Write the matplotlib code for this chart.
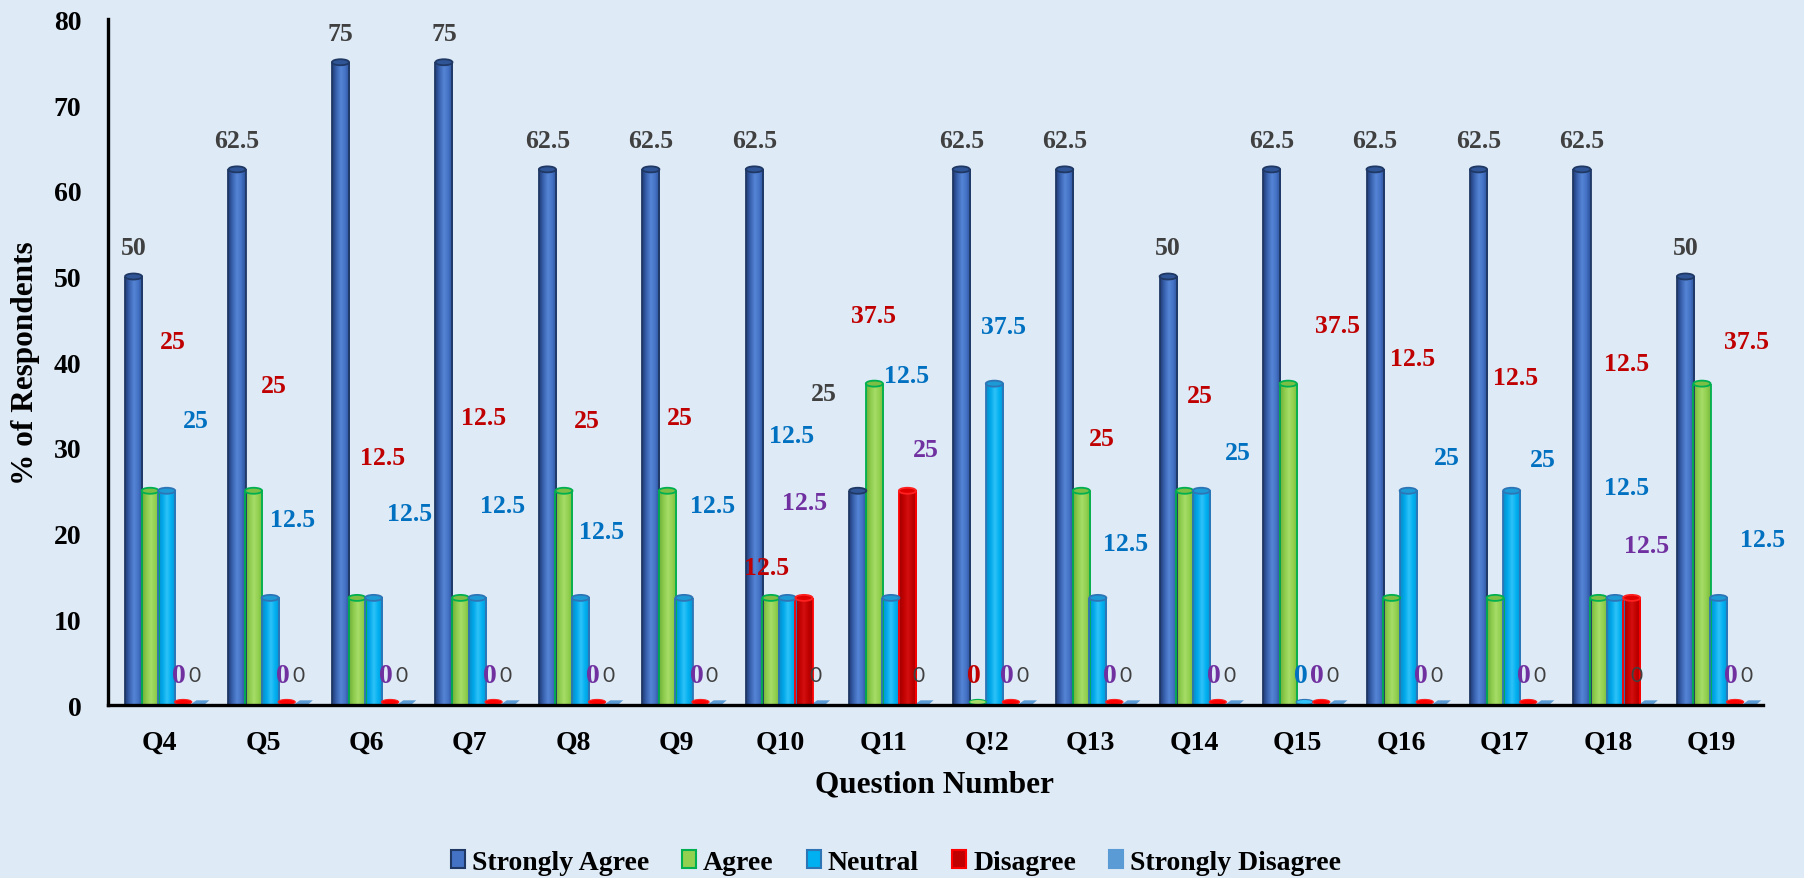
import matplotlib
matplotlib.use("Agg")
import matplotlib.pyplot as plt
import numpy as np
from matplotlib.patches import Ellipse, Polygon, Rectangle
from matplotlib.colors import LinearSegmentedColormap

# ---------------- data ----------------
questions = ["Q4", "Q5", "Q6", "Q7", "Q8", "Q9", "Q10", "Q11", "Q!2", "Q13",
             "Q14", "Q15", "Q16", "Q17", "Q18", "Q19"]
strongly_agree = [50, 62.5, 75, 75, 62.5, 62.5, 62.5, 25, 62.5, 62.5, 50, 62.5, 62.5, 62.5, 62.5, 50]
agree = [25, 25, 12.5, 12.5, 25, 25, 12.5, 37.5, 0, 25, 25, 37.5, 12.5, 12.5, 12.5, 37.5]
neutral = [25, 12.5, 12.5, 12.5, 12.5, 12.5, 12.5, 12.5, 37.5, 12.5, 25, 0, 25, 25, 12.5, 12.5]
disagree = [0, 0, 0, 0, 0, 0, 12.5, 25, 0, 0, 0, 0, 0, 0, 12.5, 0]
strongly_disagree = [0, 0, 0, 0, 0, 0, 0, 0, 0, 0, 0, 0, 0, 0, 0, 0]
series_names = ["Strongly Agree", "Agree", "Neutral", "Disagree", "Strongly Disagree"]
y_ticks = [0, 10, 20, 30, 40, 50, 60, 70, 80]

# ---------------- label placement (manually dragged labels in the original) ----------------
# (offset from category centre, label centre height)
agree_label_pos = [(0.13, 42.4), (0.11, 37.3), (0.16, 28.9), (0.13, 33.5), (0.13, 33.2), (0.03, 33.6),
                   (-0.13, 16.1), (-0.10, 45.4), (-0.13, 3.5), (0.11, 31.1), (0.06, 36.1), (0.39, 44.3),
                   (0.11, 40.4), (0.11, 38.2), (0.18, 39.8), (0.34, 42.4)]
neutral_label_pos = [(0.35, 33.2), (0.29, 21.7), (0.42, 22.3), (0.32, 23.3), (0.27, 20.3), (0.35, 23.3),
                     (0.11, 31.4), (0.22, 38.4), (0.16, 44.2), (0.34, 18.9), (0.42, 29.5), (0.03, 3.5),
                     (0.44, 28.9), (0.37, 28.6), (0.18, 25.4), (0.50, 19.3)]
disagree_label_pos = [(0.19, 3.5)] * 6 + [(0.24, 23.6), (0.41, 29.8)] + [(0.19, 3.5)] * 6 + [(0.37, 18.6), (0.19, 3.5)]
sd_label_pos = [(0.34, 3.5)] * 14 + [(0.28, 3.5), (0.34, 3.5)]
sa_label_special = {7: (-0.58, 36.4)}

# ---------------- style ----------------
BG = "#DEEAF6"
SERIF = "Liberation Serif"
bar_offsets = [-0.25, -0.09, 0.07, 0.23, 0.39]
bar_w = 0.165
ell_h = 0.7

styles = [
    dict(cols=["#1F3C78", "#3A63B0", "#5585D6", "#4472C4", "#2A4E94"], edge="#1F3864",
         top="#2F5597", topedge="#1F3864"),
    dict(cols=["#6FAE3A", "#8CCB4C", "#A6DD68", "#92D050", "#79B840"], edge="#00B050",
         top="#7DBE45", topedge="#00B050"),
    dict(cols=["#0A8CC8", "#00A8EA", "#2EC2F8", "#00B0F0", "#0A92CF"], edge="#2E75B6",
         top="#1C9AD6", topedge="#2E75B6"),
    dict(cols=["#A00000", "#C00000", "#D41010", "#C00000", "#A80000"], edge="#FF0000",
         top="#E00000", topedge="#FF2020"),
]
label_colors = ["#404040", "#C00000", "#0070C0", "#7030A0"]

fig = plt.figure(figsize=(18.04, 8.79), dpi=100, facecolor=BG)
ax = fig.add_axes([0.0597, 0.1968, 0.9176, 0.7800], facecolor=BG)

grad = np.linspace(0, 1, 64).reshape(1, -1)


def cylinder(xc, h, st):
    x0, x1 = xc - bar_w / 2, xc + bar_w / 2
    if h > 0:
        cmap = LinearSegmentedColormap.from_list("c", st["cols"])
        ax.imshow(grad, extent=(x0, x1, 0, h), cmap=cmap, aspect="auto",
                  interpolation="bilinear", zorder=2)
        ax.plot([x0, x0], [0, h], color=st["edge"], lw=1.3, zorder=2.5, solid_capstyle="butt")
        ax.plot([x1, x1], [0, h], color=st["edge"], lw=1.3, zorder=2.5, solid_capstyle="butt")
        ax.add_patch(Ellipse((xc, h), bar_w, ell_h, facecolor=st["top"],
                             edgecolor=st["topedge"], lw=1.3, zorder=3))
    else:
        ax.add_patch(Ellipse((xc, 0.35), bar_w, 0.6, facecolor=st["edge"] if st is styles[3] else st["cols"][2],
                             edgecolor=st["topedge"], lw=0.8, zorder=3))


all_series = [strongly_agree, agree, neutral, disagree]
x = np.arange(len(questions))
for s, vals in enumerate(all_series):
    for i, v in enumerate(vals):
        cylinder(x[i] + bar_offsets[s], v, styles[s])

# strongly disagree: flat floor tiles
for i, v in enumerate(strongly_disagree):
    xc = x[i] + bar_offsets[4]
    x0, x1 = xc - bar_w / 2, xc + bar_w / 2
    ax.add_patch(Polygon([(x0, 0.12), (x1 - 0.03, 0.12), (x1 + 0.01, 0.55 + v), (x0 + 0.05, 0.55 + v)],
                         closed=True, facecolor="#5B9BD5", edgecolor="none", zorder=2))

# ---------------- labels ----------------
lab_kw = dict(ha="center", va="center", fontsize=18.5, fontweight="bold", family=SERIF, zorder=6)
for i, v in enumerate(strongly_agree):
    if i in sa_label_special:
        dx, yy = sa_label_special[i]
    else:
        dx, yy = bar_offsets[0], v + 3.4
    ax.text(x[i] + dx, yy, f"{v:g}", color=label_colors[0], **lab_kw)
for vals, pos, col in [(agree, agree_label_pos, label_colors[1]),
                       (neutral, neutral_label_pos, label_colors[2]),
                       (disagree, disagree_label_pos, label_colors[3])]:
    for i, v in enumerate(vals):
        dx, yy = pos[i]
        kw = dict(lab_kw)
        if v == 0:
            kw["fontsize"] = 20
        ax.text(x[i] + dx, yy, f"{v:g}", color=col, **kw)
for i, v in enumerate(strongly_disagree):
    dx, yy = sd_label_pos[i]
    ax.text(x[i] + dx, yy, f"{v:g}", color="#404040", ha="center", va="center",
            fontsize=15, family="Lato", zorder=6)

# ---------------- axes ----------------
ax.set_xlim(-0.5, len(questions) - 0.5)
ax.set_ylim(0, 80)
ax.set_xticks(x)
ax.set_xticklabels(questions)
ax.set_yticks(y_ticks)
ax.set_yticklabels([str(t) for t in y_ticks])
for lab in ax.get_xticklabels() + ax.get_yticklabels():
    lab.set_fontfamily(SERIF)
    lab.set_fontweight("bold")
    lab.set_fontsize(20)
    lab.set_color("black")
ax.tick_params(axis="both", length=0)
ax.tick_params(axis="y", pad=19)
ax.tick_params(axis="x", pad=18)
for sp in ["top", "right"]:
    ax.spines[sp].set_visible(False)
for sp in ["left", "bottom"]:
    ax.spines[sp].set_linewidth(2.4)
    ax.spines[sp].set_color("black")
    ax.spines[sp].set_zorder(5)

fig.text(0.0139, 0.587, "% of Respondents", rotation=90, ha="center", va="center",
         fontsize=22.5, fontweight="bold", family=SERIF)
fig.text(0.518, 0.107, "Question Number", ha="center", va="center",
         fontsize=22.5, fontweight="bold", family=SERIF)

# ---------------- legend ----------------
leg_face = ["#4472C4", "#92D050", "#00B0F0", "#C00000", "#5B9BD5"]
leg_edge = ["#1F3864", "#00B050", "#2E75B6", "#FF0000", "#5B9BD5"]
handles = [Rectangle((0, 0), 1, 1, facecolor=f, edgecolor=e, lw=1.5) for f, e in zip(leg_face, leg_edge)]
fig.legend(handles, series_names, loc="center", bbox_to_anchor=(0.4967, 0.018), ncol=5,
           frameon=False, prop=dict(family=SERIF, weight="bold", size=20),
           handlelength=0.5, handleheight=0.6, handletextpad=0.25, columnspacing=1.2)

fig.savefig("out.png", dpi=100, facecolor=BG)
